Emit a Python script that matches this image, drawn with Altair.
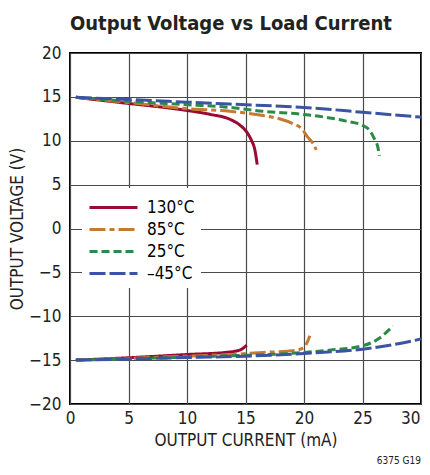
import altair as alt
import pandas as pd

# ---- data ----
temps = ["130°C", "85°C", "25°C", "–45°C"]
colors = ["#9A0A33", "#C47A35", "#2B8A46", "#3A54A3"]
dashes = [[1, 0], [16, 4, 5, 4], [8, 4], [16, 4]]

# positive output branch
pos_130_x = [0.5, 5, 7.7, 10, 12, 13.66, 14.5, 15.1, 15.5, 15.8, 16.0]
pos_130_y = [14.95, 14.25, 13.85, 13.45, 13.0, 12.45, 11.8, 11.0, 10.07, 8.96, 7.28]
pos_85_x = [0.5, 5, 10, 13.66, 16.5, 17.9, 19.06, 19.8, 20.3, 20.77, 21.05]
pos_85_y = [14.95, 14.35, 13.65, 13.36, 12.87, 12.5, 11.94, 11.38, 10.45, 9.7, 8.96]
pos_25_x = [0.5, 5, 10, 13.66, 16.5, 20, 22.2, 23.6, 25, 25.6, 26.0, 26.3, 26.45]
pos_25_y = [14.95, 14.5, 14.1, 13.8, 13.36, 12.99, 12.6, 12.24, 11.75, 11.2, 10.26, 9.33, 8.28]
pos_m45_x = [0.5, 5, 10, 13.66, 15, 20, 25, 30]
pos_m45_y = [14.95, 14.7, 14.4, 14.18, 14.1, 13.8, 13.25, 12.69]

# negative output branch
neg_130_x = [0.5, 5, 10, 13.3, 14.5, 15.1]
neg_130_y = [-15.0, -14.73, -14.36, -14.12, -13.86, -13.3]
neg_85_x = [0.5, 5, 10, 13.66, 16.5, 19.35, 20.05, 20.3, 20.5]
neg_85_y = [-15.0, -14.8, -14.55, -14.36, -14.13, -13.86, -13.48, -12.9, -12.23]
neg_25_x = [0.5, 5, 10, 13.66, 20, 22.2, 25, 26.4, 27.6]
neg_25_y = [-15.0, -14.85, -14.65, -14.5, -14.13, -13.86, -13.37, -12.54, -11.1]
neg_m45_x = [0.5, 5, 10, 15, 20, 25, 27.8, 30]
neg_m45_y = [-15.0, -14.88, -14.7, -14.55, -14.24, -13.75, -13.2, -12.6]

x_ticks = [0, 5, 10, 15, 20, 25, 30]
y_ticks = [-20, -15, -10, -5, 0, 5, 10, 15, 20]

series = [
    (temps[0], "pos", pos_130_x, pos_130_y),
    (temps[1], "pos", pos_85_x, pos_85_y),
    (temps[2], "pos", pos_25_x, pos_25_y),
    (temps[3], "pos", pos_m45_x, pos_m45_y),
    (temps[0], "neg", neg_130_x, neg_130_y),
    (temps[1], "neg", neg_85_x, neg_85_y),
    (temps[2], "neg", neg_25_x, neg_25_y),
    (temps[3], "neg", neg_m45_x, neg_m45_y),
]
rows = []
for t, b, xs, ys in series:
    for i, (xv, yv) in enumerate(zip(xs, ys)):
        rows.append({"temp": t, "branch": b, "order": i, "I": xv, "V": yv})
df = pd.DataFrame(rows)

FONT = "DejaVu Sans Condensed, Liberation Sans, Arial"

x_enc = alt.X("I:Q", scale=alt.Scale(domain=[0, 30], nice=False),
              axis=alt.Axis(values=x_ticks, title="OUTPUT CURRENT (mA)",
                            labelFlush=False,
                            labelAlign=alt.ExprRef(expr="datum.value == 30 ? 'right' : 'center'"),
                            labelOffset=alt.ExprRef(expr="datum.value == 30 ? -1 : 0"),
                            titleY=36, titleBaseline="middle"))
y_enc = alt.Y("V:Q", scale=alt.Scale(domain=[-20, 20], nice=False),
              axis=alt.Axis(values=y_ticks, title="OUTPUT VOLTAGE (V)",
                            labelFlush=False, titleX=-53, titleBaseline="middle"))

leg = dict(title=None, orient="none", legendX=12, legendY=135,
           symbolType="M-2,0H2", symbolSize=576, symbolOffset=12,
           symbolStrokeWidth=3, labelFontSize=17,
           labelFont=FONT, labelOffset=20, padding=6,
           fillColor="white", rowPadding=-3)

lines = alt.Chart(df).mark_line(strokeWidth=3, clip=True, interpolate="monotone").encode(
    x=x_enc,
    y=y_enc,
    color=alt.Color("temp:N", scale=alt.Scale(domain=temps, range=colors),
                    legend=alt.Legend(**leg)),
    strokeDash=alt.StrokeDash("temp:N", scale=alt.Scale(domain=temps, range=dashes),
                              legend=alt.Legend(**leg)),
    detail="branch:N",
    order="order:Q",
)

note_df = pd.DataFrame({"I": [30], "V": [-20], "txt": ["6375 G19"]})
note = alt.Chart(note_df).mark_text(align="right", baseline="middle", dy=57, dx=0,
                                    fontSize=10, font=FONT, color="#222").encode(
    x="I:Q", y="V:Q", text="txt:N")

chart = alt.layer(lines, note).properties(
    width=351, height=351,
    title=alt.TitleParams("Output Voltage vs Load Current", anchor="start", frame="group",
                          font=FONT, fontSize=20, fontWeight="bold", color="#222",
                          offset=10),
    autosize=alt.AutoSizeParams(type="none"),
    padding={"left": 62, "top": 45, "right": 1, "bottom": 63},
).configure_view(stroke="black", strokeWidth=2).configure_axis(
    domain=False, ticks=False, grid=True, gridColor="#4a4a4a", gridWidth=1.2,
    labelFont=FONT, labelFontSize=17, labelColor="#222",
    titleFont=FONT, titleFontSize=17, titleFontWeight="normal", titleColor="#222",
).configure_axisX(labelPadding=6).configure_axisY(labelPadding=9)

chart.save("out.html", embed_options={"renderer": "svg", "actions": False})
